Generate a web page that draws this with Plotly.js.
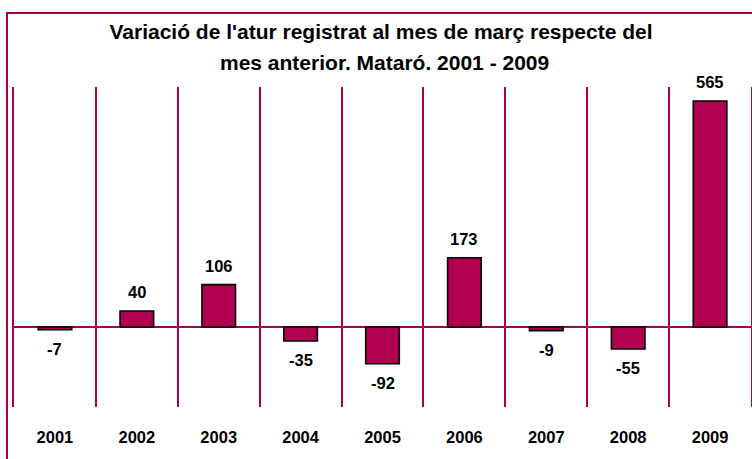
<!DOCTYPE html>
<html>
<head>
<meta charset="utf-8">
<script src="https://cdn.plot.ly/plotly-3.0.1.min.js"></script>
<style>
  html, body { margin: 0; padding: 0; background: #ffffff; }
  #chart { width: 752px; height: 459px; }
</style>
</head>
<body>
<div id="chart"></div>
<script>
const years = ['2001', '2002', '2003', '2004', '2005', '2006', '2007', '2008', '2009'];
const values = [-7, 40, 106, -35, -92, 173, -9, -55, 565];
const titleLine1 = "Variació de l'atur registrat al mes de març respecte del";
const titleLine2 = "mes anterior. Mataró. 2001 - 2009";

const W = 752, H = 459;
const M = { l: 14, r: 1, t: 87, b: 52 };
const PW = W - M.l - M.r, PH = H - M.t - M.b;
const maroon = '#A8004F';
const barFill = '#B0004F';
const fontFam = 'Liberation Sans, Arial, Helvetica, sans-serif';

const labelAnnotations = years.map((yr, i) => ({
  x: i, y: values[i], xref: 'x', yref: 'y',
  text: String(values[i]), showarrow: false,
  yanchor: 'middle', yshift: values[i] >= 0 ? 19 : -19,
  font: { family: fontFam, size: 16.5, color: '#000000', weight: 'bold' }
}));

const data = [{
  type: 'bar', x: years, y: values,
  width: 0.41,
  marker: { color: barFill, line: { color: '#000000', width: 1.6 } },
  hoverinfo: 'x+y'
}];

const layout = {
  width: W, height: H,
  margin: M,
  paper_bgcolor: '#ffffff', plot_bgcolor: '#ffffff',
  showlegend: false,
  font: { family: fontFam, color: '#000000' },
  title: {
    text: titleLine1, xref: 'container', yref: 'container',
    x: 381 / W, y: 1 - 32 / H, xanchor: 'center', yanchor: 'middle',
    font: { family: fontFam, size: 21, color: '#000000', weight: 'bold' }
  },
  xaxis: {
    type: 'category', range: [-0.5, 8.5],
    tickson: 'boundaries', ticks: '', showline: false,
    showgrid: true, gridcolor: maroon, gridwidth: 2,
    ticklabelstandoff: 18,
    tickfont: { family: fontFam, size: 16.5, color: '#000000', weight: 'bold' },
    fixedrange: true
  },
  yaxis: {
    range: [-200, 600], showgrid: false, showticklabels: false, ticks: '',
    zeroline: true, zerolinecolor: maroon, zerolinewidth: 2,
    showline: true, mirror: true, linecolor: maroon, linewidth: 2,
    fixedrange: true
  },
  annotations: [
    {
      xref: 'paper', yref: 'paper', x: (384 - M.l) / PW, y: 1 + (M.t - 62) / PH,
      xanchor: 'center', yanchor: 'middle', showarrow: false,
      text: titleLine2,
      font: { family: fontFam, size: 21, color: '#000000', weight: 'bold' }
    }
  ].concat(labelAnnotations),
  shapes: [{
    type: 'rect', xref: 'paper', yref: 'paper', layer: 'below',
    x0: (7 - M.l) / PW, x1: 1.1, y0: -0.5, y1: 1 + (M.t - 13) / PH,
    line: { color: maroon, width: 2 }, fillcolor: 'rgba(0,0,0,0)'
  }]
};

Plotly.newPlot('chart', data, layout, { displayModeBar: false, staticPlot: true });
</script>
</body>
</html>
